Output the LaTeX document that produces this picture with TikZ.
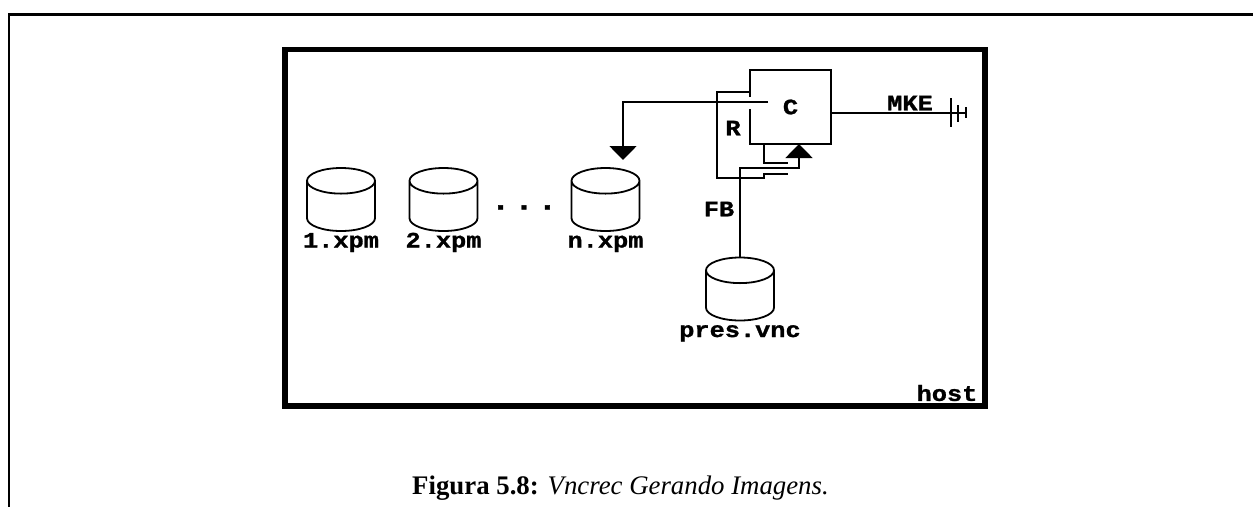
\documentclass[tikz,border=0pt]{standalone}
\usepackage{fontspec}
\setmainfont{Liberation Serif}
\newfontfamily\sketchfont[FakeStretch=1.15, FakeBold=1.2]{Liberation Mono Bold}
\usetikzlibrary{shapes.geometric, arrows.meta, positioning, calc}

\begin{document}
\begin{tikzpicture}[
    x=1pt, y=-1pt,
    line width=1.8pt,
    every node/.style={inner sep=0pt, outer sep=0pt},
    frame/.style={rectangle, draw, line width=5.5pt, minimum width=700pt, minimum height=356.5pt},
    disk/.style={cylinder, draw, shape border rotate=90, inner sep=16pt, aspect=0.8, minimum width=68pt, minimum height=63pt, anchor=shape center},
    lbl/.style={font=\sketchfont\fontsize{22}{22}\selectfont},
    disklbl/.style={lbl, text height=13pt, text depth=5pt},
    arr/.style={-{Triangle[length=14pt, width=27pt]}},
    caption/.style={font=\fontsize{26.8}{30}\selectfont}
]
    \useasboundingbox (0,0) rectangle (1253,507);

    \draw[line width=2.8pt] (1253,14.5) -- (9,14.5) -- (9,507);

    \node (host) [frame] at (635,227.75) {};
    \node (hostlbl) [lbl] at (947,393) {host};

    \node (disk1) [disk] at (341,199.5) {};
    \node (disk2) [disk] at (443.5,199.5) {};
    \node (diskn) [disk] at (605.5,199.5) {};
    \node (pres) [disk] at (740,289) {};

    \node (lbl1) [disklbl, below=3.5pt of disk1] {1.xpm};
    \node (lbl2) [disklbl, below=3.5pt of disk2] {2.xpm};
    \node (lbln) [disklbl, below=3.5pt of diskn] {n.xpm};
    \node (lblp) [disklbl, below=3.5pt of pres] {pres.vnc};

    \node (dots) [font=\sketchfont\fontsize{28}{28}\selectfont, anchor=base] at (524,209.5) {.\kern4pt.\kern4pt.};

    \node (cbox) [minimum width=81pt, minimum height=74pt, lbl] at (790.5,107) {C};
    \node (rlbl) [lbl] at (733,128) {R};
    \node (fblbl) [lbl] at (719,209) {FB};
    \node (mke) [lbl] at (910,103) {MKE};
    \node (cap) [caption, anchor=base] at (620.5,494) {\textbf{Figura 5.8:} \textit{Vncrec Gerando Imagens.}};

    \coordinate (gaptop) at (cbox.north west |- 0,96.5);
    \coordinate (gapbot) at (cbox.north west |- 0,109);
    \coordinate (rstart) at (768,102);
    \coordinate (rtip) at (623,160);
    \coordinate (fbturn) at (799,168);
    \coordinate (mkeout) at (831,113);
    \coordinate (mkeend) at (966,113);

    \draw (gaptop) -- (cbox.north west) -- (cbox.north east) -- (cbox.south east) -- (cbox.south west) -- (gapbot);

    \draw[arr] (rstart) -| (rtip);
    \draw[arr] (pres.north) |- (fbturn) -- (cbox.south -| fbturn);

    \draw (750,92) -- (717,92) -- (717,178) -- (764,178) -- (764,174) -- (788,174);
    \draw (764,144) -- (764,163) -- (788,163);

    \draw (mkeout) -- (mkeend);
    \draw (951,98) -- (951,127);
    \draw (958,105) -- (958,122);
    \draw (mkeend |- 0,107) -- (mkeend |- 0,118);
\end{tikzpicture}
\end{document}
